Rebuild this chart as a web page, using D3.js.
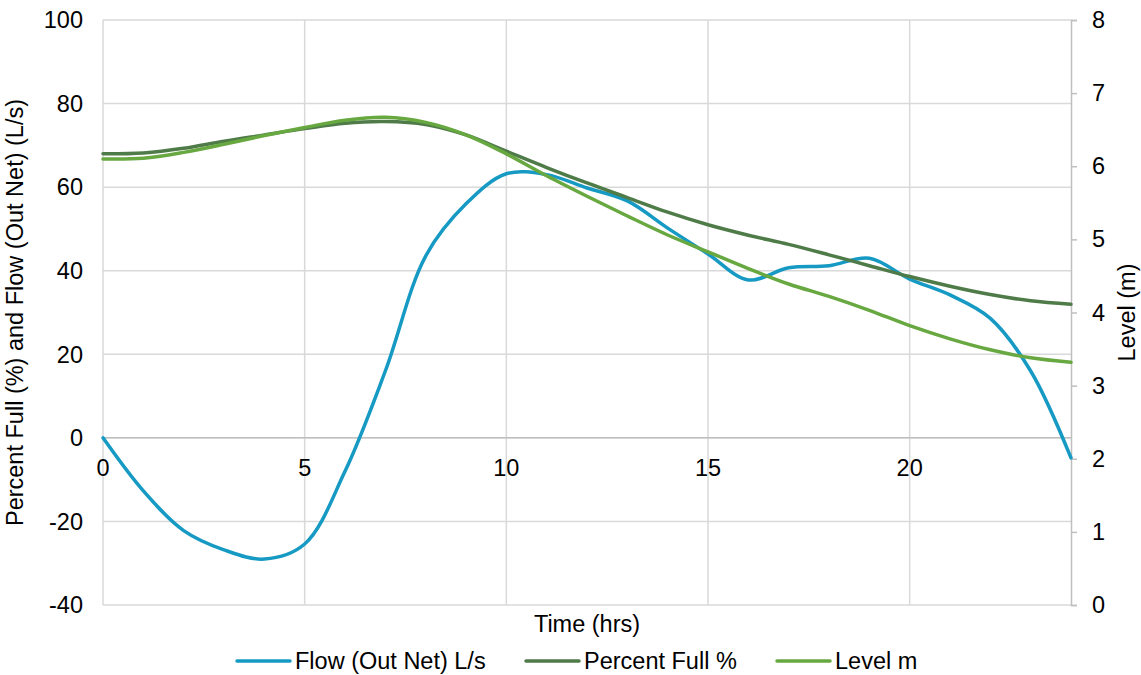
<!DOCTYPE html>
<html>
<head>
<meta charset="utf-8">
<script src="https://cdn.jsdelivr.net/npm/d3@7/dist/d3.min.js"></script>
<style>
  html, body { margin: 0; padding: 0; background: #fff; }
  svg { display: block; font-family: "Liberation Sans", Arial, sans-serif; }
</style>
</head>
<body>
<svg id="chart" width="1141" height="675"></svg>
<script>
// Time in hours
const hours = [0,1,2,3,4,5,6,7,8,9,10,11,12,13,14,15,16,17,18,19,20,21,22,23,24];
// Net outflow, L/s
const flow = [0,-12.7,-22.2,-26.8,-29,-25.4,-8,16,43.5,56,63.2,63,59.8,56.7,50.2,44,37.8,40.7,41.2,43,38,34.2,28.6,16,-4.8];
// Percent full, %
const percentFull = [68,68.2,69.3,71,72.5,74,75.3,75.7,75,72.5,68.6,64.7,61,57.5,54,51,48.5,46.3,43.8,41.2,38.6,36.3,34.3,32.8,32];
// Level, m
const level = [6.10,6.11,6.19,6.30,6.42,6.53,6.63,6.67,6.60,6.43,6.17,5.87,5.59,5.32,5.06,4.83,4.60,4.39,4.22,4.03,3.82,3.64,3.49,3.38,3.32];

const xTicks = [0,5,10,15,20];
const yLeftTicks = [-40,-20,0,20,40,60,80,100];
const yRightTicks = [0,1,2,3,4,5,6,7,8];

const series = [
  { name: "Flow (Out Net) L/s", values: flow, axis: "left", color: "#169ac3" },
  { name: "Percent Full %", values: percentFull, axis: "left", color: "#4f7b49" },
  { name: "Level m", values: level, axis: "right", color: "#68a841" }
];

const svg = d3.select("#chart");
const pL = 103, pR = 1071, pT = 20, pB = 605;

const x = d3.scaleLinear().domain([0, 24]).range([pL, pR]);
const yL = d3.scaleLinear().domain([-40, 100]).range([pB, pT]);
const yR = d3.scaleLinear().domain([0, 8]).range([pB, pT]);

const grid = svg.append("g");
// horizontal gridlines
grid.selectAll("line.h").data(yLeftTicks).join("line")
  .attr("x1", pL).attr("x2", pR)
  .attr("y1", d => yL(d)).attr("y2", d => yL(d))
  .attr("stroke", "#d9d9d9").attr("stroke-width", 1.5);
// vertical gridlines
grid.selectAll("line.v").data(xTicks).join("line")
  .attr("x1", d => x(d)).attr("x2", d => x(d))
  .attr("y1", pT).attr("y2", pB)
  .attr("stroke", "#d9d9d9").attr("stroke-width", 1.5);
// horizontal axis line at zero
grid.append("line")
  .attr("x1", pL).attr("x2", pR)
  .attr("y1", yL(0)).attr("y2", yL(0))
  .attr("stroke", "#bfbfbf").attr("stroke-width", 1.5);

// left axis labels
const fontSize = 23.5;
svg.append("g").selectAll("text").data(yLeftTicks).join("text")
  .attr("x", 83).attr("y", d => yL(d)).attr("dy", "0.35em")
  .attr("text-anchor", "end").attr("font-size", fontSize).attr("fill", "#000")
  .text(d => d);

// right axis
const rAxis = svg.append("g").attr("transform", `translate(${pR},0)`)
  .call(d3.axisRight(yR).tickValues(yRightTicks).tickSize(6).tickPadding(15).tickFormat(d3.format("d")));
rAxis.select(".domain").attr("stroke", "#bfbfbf").attr("stroke-width", 1.5);
rAxis.selectAll(".tick line").attr("stroke", "#bfbfbf").attr("stroke-width", 1.5);
rAxis.selectAll(".tick text").attr("font-size", fontSize).attr("fill", "#000")
  .attr("font-family", "Liberation Sans, Arial, sans-serif");

// x axis labels (sit just under the zero line)
svg.append("g").selectAll("text").data(xTicks).join("text")
  .attr("x", d => x(d)).attr("y", yL(0) + 30).attr("dy", "0.35em")
  .attr("text-anchor", "middle").attr("font-size", fontSize).attr("fill", "#000")
  .text(d => d);

// axis titles
svg.append("text").attr("x", (pL + pR) / 2).attr("y", 624).attr("dy", "0.35em")
  .attr("text-anchor", "middle").attr("font-size", fontSize).text("Time (hrs)");
svg.append("text").attr("transform", `translate(15,${(pT + pB) / 2}) rotate(-90)`)
  .attr("dy", "0.35em").attr("text-anchor", "middle").attr("font-size", fontSize)
  .text("Percent Full (%) and Flow (Out Net) (L/s)");
svg.append("text").attr("transform", `translate(1127,${(pT + pB) / 2}) rotate(-90)`)
  .attr("dy", "0.35em").attr("text-anchor", "middle").attr("font-size", fontSize)
  .text("Level (m)");

// series lines
const lines = svg.append("g");
series.forEach(s => {
  const yS = s.axis === "left" ? yL : yR;
  const gen = d3.line()
    .x((d, i) => x(hours[i]))
    .y(d => yS(d))
    .curve(d3.curveCatmullRom.alpha(0.5));
  lines.append("path").datum(s.values)
    .attr("d", gen).attr("fill", "none")
    .attr("stroke", s.color).attr("stroke-width", 3.5)
    .attr("stroke-linejoin", "round").attr("stroke-linecap", "round");
});

// legend
const legendY = 661;
const legendX = [237, 526, 777];
const legend = svg.append("g");
series.forEach((s, i) => {
  const lx = legendX[i];
  legend.append("line").attr("x1", lx).attr("x2", lx + 53)
    .attr("y1", legendY).attr("y2", legendY)
    .attr("stroke", s.color).attr("stroke-width", 3.5).attr("stroke-linecap", "round");
  legend.append("text").attr("x", lx + 58).attr("y", legendY).attr("dy", "0.35em")
    .attr("font-size", fontSize).attr("fill", "#000").text(s.name);
});
</script>
</body>
</html>
